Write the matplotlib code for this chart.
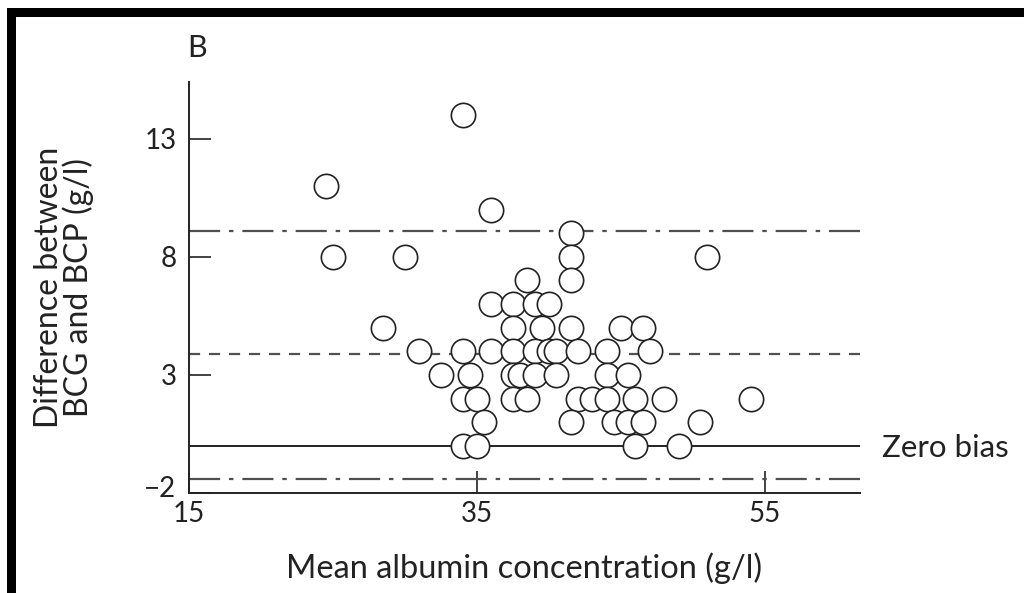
import matplotlib
matplotlib.use("Agg")
import matplotlib.pyplot as plt
import matplotlib.transforms as mtransforms
from matplotlib.patches import Rectangle

## data (mean albumin, difference BCG - BCP)
mean_alb = [34.0, 24.5, 36.0, 41.5, 25.0, 30.0, 41.5, 51.0, 38.5, 41.5,
            36.0, 37.5, 39.0, 40.0, 28.5, 37.5, 39.5, 41.5, 45.0, 46.5,
            31.0, 34.0, 36.0, 37.5, 39.0, 40.0, 40.5, 42.0, 44.0, 47.0,
            32.5, 34.5, 37.5, 38.0, 39.0, 40.5, 44.0, 45.5,
            34.0, 35.0, 37.5, 38.5, 42.0, 43.0, 44.0, 46.0, 48.0, 54.0,
            35.5, 41.5, 44.5, 45.5, 46.5, 50.5,
            34.0, 35.0, 46.0, 49.0]
diff = [14, 11, 10, 9, 8, 8, 8, 8, 7, 7,
        6, 6, 6, 6, 5, 5, 5, 5, 5, 5,
        4, 4, 4, 4, 4, 4, 4, 4, 4, 4,
        3, 3, 3, 3, 3, 3, 3, 3,
        2, 2, 2, 2, 2, 2, 2, 2, 2, 2,
        1, 1, 1, 1, 1, 1,
        0, 0, 0, 0]

mean_diff = 3.9
upper_loa = 9.1
lower_loa = -1.4
zero_bias = 0

x_ticks = [15, 35, 55]
y_ticks = [-2, 3, 8, 13]
y_ticklabels = ['\u22122', '3', '8', '13']

plt.rcParams['font.family'] = ['Lato', 'DejaVu Sans']

fig = plt.figure(figsize=(10.24, 5.93), dpi=100)
ax = fig.add_axes([0.1846, 0.1686, 0.8398 - 0.1846, 0.8617 - 0.1686])

line_col = '#505050'
ax.axhline(upper_loa, color=line_col, lw=1.6, dashes=(14, 4, 2, 4))
ax.axhline(lower_loa, color=line_col, lw=1.6, dashes=(14, 4, 2, 4))
ax.axhline(mean_diff, color=line_col, lw=1.6, dashes=(5, 4))
ax.axhline(zero_bias, color='#222222', lw=1.4)

ax.plot(mean_alb, diff, 'o', ms=17.5, mfc='white', mec='#222222', mew=1.2,
        linestyle='none', zorder=3)

ax.set_xlim(15, 61.6)
ax.set_ylim(-2, 15.4)
ax.set_xticks(x_ticks)
ax.set_yticks(y_ticks)
ax.set_yticklabels(y_ticklabels)
ax.tick_params(direction='in', length=16, width=1.2, labelsize=20, colors='#222222')
ax.tick_params(axis='y', pad=9)
ax.tick_params(axis='x', pad=6)
for s in ['top', 'right']:
    ax.spines[s].set_visible(False)
for s in ['left', 'bottom']:
    ax.spines[s].set_linewidth(1.4)
    ax.spines[s].set_color('#222222')

# the -2 label sits a little higher than its tick in the original
lbl = ax.get_yticklabels()[0]
lbl.set_transform(lbl.get_transform() + mtransforms.ScaledTranslation(0, 5 / 72, fig.dpi_scale_trans))

ax.set_xlabel('Mean albumin concentration (g/l)', fontsize=23.5, labelpad=18, color='#222222')
ax.set_ylabel('Difference between\nBCG and BCP (g/l)', fontsize=23, labelpad=36,
              color='#222222', linespacing=0.95)

fig.text(882 / 1024, 1 - 448 / 593, 'Zero bias', fontsize=22.5, va='center', ha='left',
         color='#222222')
fig.text(197 / 1024, 1 - 48 / 593, 'B', fontsize=22, va='center', ha='center',
         color='#222222')

# thick frame on top and left like the scanned figure
fig.add_artist(Rectangle((7 / 1024, 1 - 17 / 593), 1.0, 9 / 593,
                         transform=fig.transFigure, color='black', lw=0))
fig.add_artist(Rectangle((7 / 1024, -0.01), 9 / 1024, 1 - 8 / 593 + 0.01,
                         transform=fig.transFigure, color='black', lw=0))

plt.savefig('out.png', dpi=100)
